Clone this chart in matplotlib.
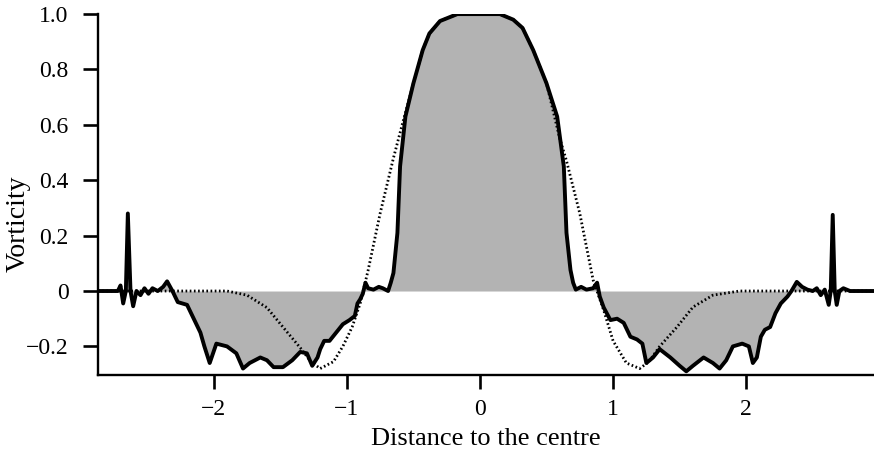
import matplotlib
matplotlib.use("Agg")
import matplotlib.pyplot as plt
from matplotlib.ticker import FuncFormatter

# vorticity profile after evolution (solid) and initial profile (dotted)
solid_x = [
    -2.90, -2.80, -2.72, -2.70, -2.68, -2.66, -2.645, -2.625, -2.605, -2.58,
    -2.55, -2.52, -2.49, -2.46, -2.42, -2.38, -2.35, -2.31, -2.27, -2.20,
    -2.16, -2.10, -2.07, -2.03, -1.98, -1.90, -1.83, -1.78, -1.73, -1.65,
    -1.60, -1.55, -1.48, -1.41, -1.35, -1.30, -1.26, -1.22, -1.20, -1.17,
    -1.13, -1.08, -1.03, -0.98, -0.94, -0.92, -0.90, -0.88, -0.86, -0.84,
    -0.80, -0.76, -0.73, -0.69, -0.67, -0.65, -0.62, -0.60, -0.56, -0.50,
    -0.43, -0.38, -0.30, -0.17, 0.00, 0.15, 0.25, 0.32, 0.40, 0.50,
    0.58, 0.63, 0.65, 0.68, 0.70, 0.72, 0.76, 0.80, 0.85, 0.88,
    0.90, 0.93, 0.98, 1.03, 1.08, 1.13, 1.18, 1.22, 1.25, 1.30,
    1.35, 1.43, 1.50, 1.55, 1.60, 1.68, 1.75, 1.80, 1.85, 1.90,
    1.97, 2.02, 2.05, 2.08, 2.11, 2.14, 2.18, 2.22, 2.26, 2.31,
    2.34, 2.38, 2.42, 2.46, 2.50, 2.53, 2.56, 2.59, 2.62, 2.635,
    2.65, 2.665, 2.68, 2.70, 2.73, 2.78, 2.98,
]
solid_w = [
    0.0, 0.0, 0.0, 0.02, -0.045, 0.0, 0.28, 0.0, -0.055, 0.0,
    -0.015, 0.01, -0.01, 0.01, 0.0, 0.015, 0.035, 0.0, -0.04, -0.05,
    -0.09, -0.15, -0.20, -0.26, -0.19, -0.20, -0.225, -0.28, -0.26, -0.24,
    -0.25, -0.275, -0.275, -0.25, -0.22, -0.225, -0.27, -0.24, -0.21, -0.18,
    -0.18, -0.15, -0.12, -0.105, -0.09, -0.045, -0.03, -0.01, 0.03, 0.01,
    0.005, 0.015, 0.01, 0.0, 0.03, 0.065, 0.21, 0.45, 0.63, 0.75,
    0.87, 0.93, 0.975, 1.0, 1.0, 1.0, 0.98, 0.95, 0.87, 0.75,
    0.63, 0.45, 0.21, 0.076, 0.03, 0.005, 0.015, 0.005, 0.01, 0.03,
    -0.02, -0.06, -0.105, -0.10, -0.115, -0.165, -0.175, -0.19, -0.26, -0.24,
    -0.21, -0.24, -0.27, -0.29, -0.27, -0.24, -0.26, -0.28, -0.25, -0.20,
    -0.19, -0.20, -0.26, -0.24, -0.165, -0.14, -0.13, -0.08, -0.045, -0.02,
    0.0, 0.033, 0.015, 0.005, 0.0, 0.01, -0.015, 0.005, -0.05, 0.0,
    0.275, 0.0, -0.05, 0.0, 0.01, 0.0, 0.0,
]

initial_x = [
    -2.90, -1.90, -1.75, -1.60, -1.48, -1.35, -1.27, -1.20, -1.10, -1.03,
    -0.96, -0.90, -0.84, -0.75, -0.65, -0.59, -0.50, -0.43, -0.38, -0.30,
    -0.17, 0.00, 0.15, 0.25, 0.32, 0.40, 0.50, 0.60, 0.65, 0.75,
    0.85, 0.93, 1.00, 1.10, 1.20, 1.27, 1.35, 1.48, 1.60, 1.75,
    1.95, 2.98,
]
initial_w = [
    0.0, 0.0, -0.015, -0.06, -0.13, -0.205, -0.255, -0.28, -0.255, -0.20,
    -0.13, -0.045, 0.075, 0.28, 0.48, 0.59, 0.75, 0.87, 0.93, 0.975,
    1.0, 1.0, 1.0, 0.98, 0.95, 0.87, 0.75, 0.55, 0.47, 0.28,
    0.04, -0.07, -0.18, -0.26, -0.28, -0.255, -0.20, -0.13, -0.058, -0.015,
    0.0, 0.0,
]

x_ticks = [-2, -1, 0, 1, 2]
y_ticks = [-0.2, 0, 0.2, 0.4, 0.6, 0.8, 1.0]

plt.rcParams["font.family"] = ["Liberation Serif", "DejaVu Serif"]

fig = plt.figure(figsize=(8.74, 4.55), dpi=100)
ax = fig.add_axes([0.112, 0.176, 0.888, 0.793])

ax.fill_between(solid_x, solid_w, 0, color="#b3b3b3", linewidth=0)
ax.plot(initial_x, initial_w, color="black", linewidth=2.0,
        linestyle=(0, (0.6, 0.9)))
ax.plot(solid_x, solid_w, color="black", linewidth=2.8,
        solid_joinstyle="round")

ax.set_xlim(-2.87, 2.96)
ax.set_ylim(-0.303, 1.0)

for side in ("top", "right"):
    ax.spines[side].set_visible(False)
for side in ("left", "bottom"):
    ax.spines[side].set_linewidth(1.7)

ax.set_xticks(x_ticks)
ax.set_yticks(y_ticks)
# plain "0", one decimal elsewhere, typographic minus sign
ax.xaxis.set_major_formatter(
    FuncFormatter(lambda v, p: f"{v:.0f}".replace("-", "\u2212")))
ax.yaxis.set_major_formatter(
    FuncFormatter(lambda v, p: "0" if abs(v) < 1e-9
                  else f"{v:.1f}".replace("-", "\u2212")))

ax.tick_params(axis="both", direction="out", width=1.9, labelsize=17,
               colors="black")
ax.tick_params(axis="y", length=11, pad=10)
ax.tick_params(axis="x", length=10, pad=7)

ax.set_xlabel("Distance to the centre", fontsize=19, labelpad=6)
ax.set_ylabel("Vorticity", fontsize=20)
ax.yaxis.set_label_coords(-0.087, 0.42)

fig.savefig("out.png", dpi=100)
